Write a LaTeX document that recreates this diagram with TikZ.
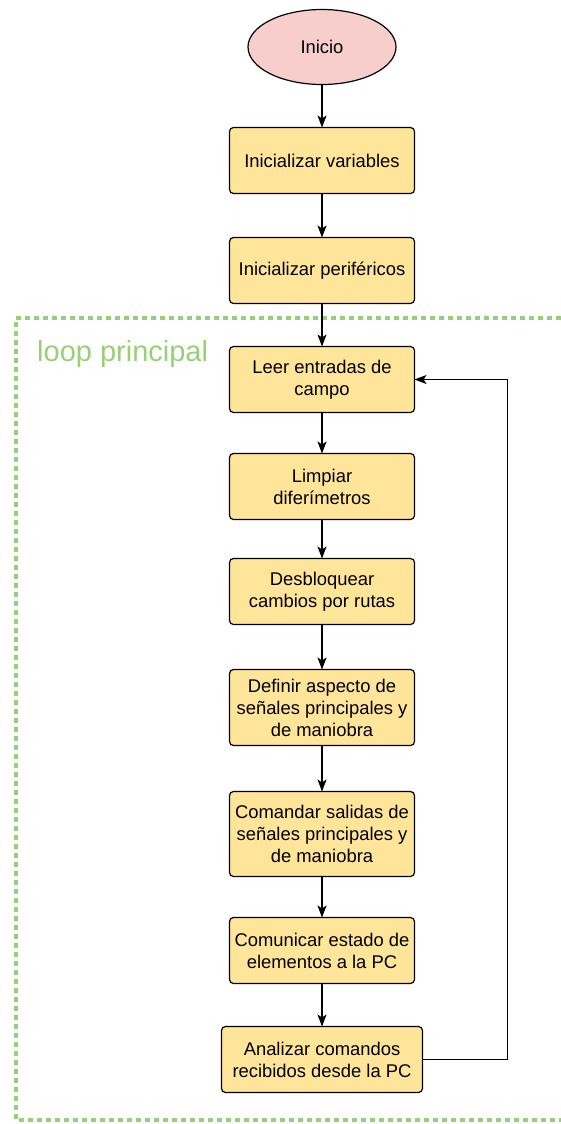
\documentclass[tikz,border=0pt]{standalone}
\usepackage{fontspec}
\setmainfont{Liberation Sans}
\usepackage{xcolor}
\usetikzlibrary{positioning,arrows.meta,shapes.geometric}
\definecolor{cajaAmarilla}{HTML}{FFE599}
\definecolor{inicioRosa}{HTML}{F8CECC}
\definecolor{verdeLoop}{HTML}{97D077}

\begin{document}
\begin{tikzpicture}[
    x=1pt, y=-1pt,
    paso/.style={draw, rounded corners=4pt, align=center, minimum height=66pt,
                minimum width=185pt, fill=cajaAmarilla, line width=1.2pt,
                inner sep=2pt, outer sep=0pt, font=\fontsize{18.4}{22}\selectfont},
    flecha/.style={-{Stealth[length=12pt,width=9pt,inset=3pt]}, line width=1.2pt},
    node distance=43pt
]
    \useasboundingbox (0,0) rectangle (561,1124);
    % marco del loop principal
    \draw[verdeLoop, line width=4.5pt, dash pattern=on 5pt off 4pt]
        (561,318) -- (16,318) -- (16,1120) -- (561,1120);
    \node[verdeLoop, anchor=west, inner sep=0pt, font=\fontsize{29}{34}\selectfont]
        (lbl) at (37,354) {loop principal};

    \node[ellipse, draw, fill=inicioRosa, line width=1.2pt, minimum width=148pt,
          minimum height=75pt, outer sep=0pt, font=\fontsize{18.4}{22}\selectfont]
          (inicio) at (322,47) {Inicio};
    \node[paso, below=of inicio] (vars) {Inicializar variables};
    \node[paso, below=44pt of vars] (perif) {Inicializar periféricos};
    \node[paso, below=of perif] (leer) {Leer entradas de\\campo};
    \node[paso, below=41pt of leer] (limpiar) {Limpiar\\diferímetros};
    \node[paso, below=39pt of limpiar] (desbl) {Desbloquear\\cambios por rutas};
    \node[paso, below=45pt of desbl, minimum height=76pt] (definir)
        {Definir aspecto de\\señales principales y\\de maniobra};
    \node[paso, below=46pt of definir, minimum height=85pt] (comandar)
        {Comandar salidas de\\señales principales y\\de maniobra};
    \node[paso, below=41pt of comandar] (comunicar) {Comunicar estado de\\elementos a la PC};
    \node[paso, below=of comunicar, minimum width=201pt] (analizar)
        {Analizar comandos\\recibidos desde la PC};

    \draw[flecha] (inicio) -- (vars);
    \draw[flecha] (vars) -- (perif);
    \draw[flecha] (perif) -- (leer);
    \draw[flecha] (leer) -- (limpiar);
    \draw[flecha] (limpiar) -- (desbl);
    \draw[flecha] (desbl) -- (definir);
    \draw[flecha] (definir) -- (comandar);
    \draw[flecha] (comandar) -- (comunicar);
    \draw[flecha] (comunicar) -- (analizar);
    \draw[flecha] (analizar.east) -- ++(85,0) |- (leer.east);
\end{tikzpicture}
\end{document}
